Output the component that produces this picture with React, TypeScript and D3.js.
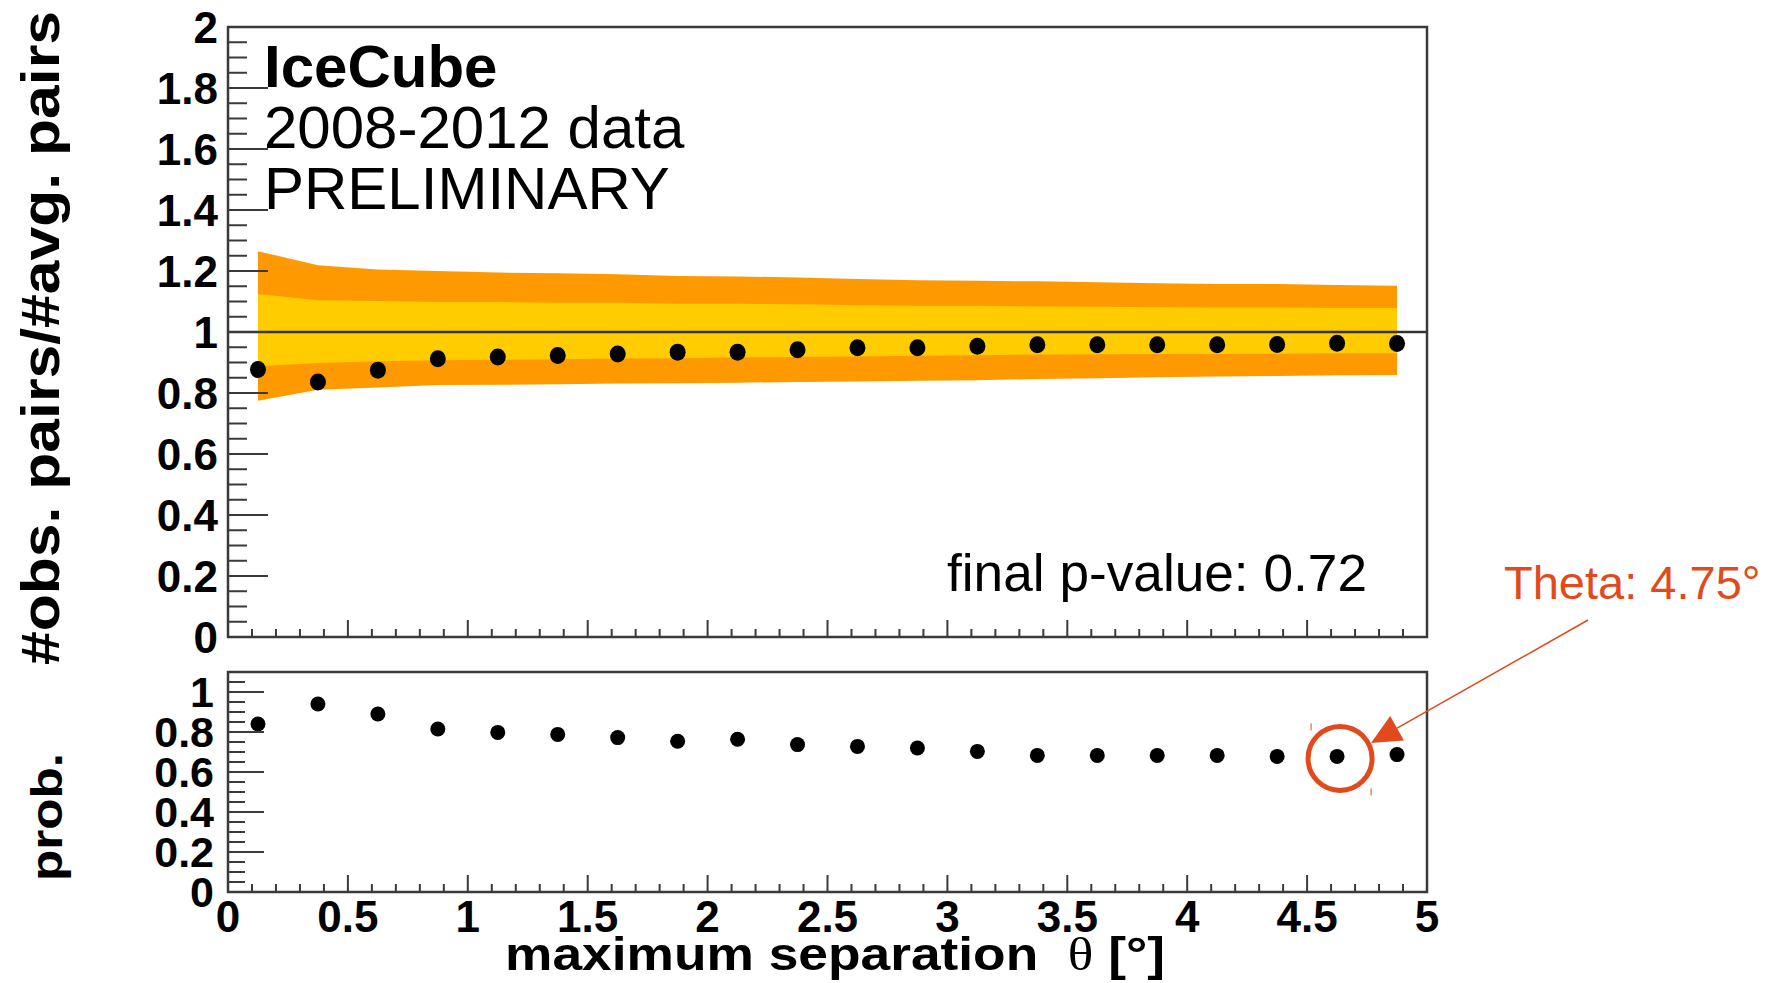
import * as d3 from 'd3';
import React from 'react';

// bin centres of the max separation scan (deg)
const thetaBins = [0.125, 0.375, 0.625, 0.875, 1.125, 1.375, 1.625, 1.875, 2.125, 2.375,
    2.625, 2.875, 3.125, 3.375, 3.625, 3.875, 4.125, 4.375, 4.625, 4.875];

// #obs pairs / #avg pairs
const ratioObs = [0.877, 0.836, 0.875, 0.912, 0.918, 0.923, 0.928, 0.934, 0.934, 0.942,
    0.948, 0.948, 0.953, 0.958, 0.958, 0.958, 0.958, 0.959, 0.963, 0.962];

// expectation bands
const outerHi = [1.265, 1.219, 1.205, 1.200, 1.195, 1.193, 1.189, 1.184, 1.182, 1.179,
    1.174, 1.170, 1.168, 1.166, 1.163, 1.160, 1.157, 1.157, 1.154, 1.152];
const innerHi = [1.125, 1.104, 1.102, 1.098, 1.098, 1.096, 1.096, 1.093, 1.093, 1.091,
    1.088, 1.086, 1.086, 1.084, 1.083, 1.081, 1.080, 1.080, 1.079, 1.079];
const innerLo = [0.888, 0.898, 0.904, 0.907, 0.909, 0.911, 0.913, 0.914, 0.917, 0.918,
    0.920, 0.922, 0.924, 0.926, 0.927, 0.928, 0.928, 0.929, 0.930, 0.930];
const outerLo = [0.775, 0.811, 0.818, 0.826, 0.827, 0.829, 0.831, 0.832, 0.834, 0.836,
    0.838, 0.840, 0.842, 0.846, 0.848, 0.852, 0.854, 0.856, 0.858, 0.859];

// p-value per bin
const probValues = [0.84, 0.94, 0.89, 0.815, 0.798, 0.788, 0.772, 0.754, 0.764, 0.737,
    0.728, 0.72, 0.703, 0.683, 0.683, 0.683, 0.683, 0.678, 0.678, 0.687];

const topYTicks = [0, 0.2, 0.4, 0.6, 0.8, 1, 1.2, 1.4, 1.6, 1.8, 2];
const botYTicks = [0, 0.2, 0.4, 0.6, 0.8, 1];
const xTicks = [0, 0.5, 1, 1.5, 2, 2.5, 3, 3.5, 4, 4.5, 5];

const headerLines = ['IceCube', '2008-2012 data', 'PRELIMINARY'];
const pValueText = 'final p-value: 0.72';
const markedTheta = 4.625;
const markedLabel = 'Theta: 4.75°';

const FONT = '"Liberation Sans", Arial, Helvetica, sans-serif';
const AXIS = '#3a3a3a';
const RED = '#E04A1C';

const App = () => {
    const x = d3.scaleLinear().domain([0, 5]).range([228, 1427]);
    const yTop = d3.scaleLinear().domain([0, 2]).range([637, 27]);
    const yBot = d3.scaleLinear().domain([0, 1.1]).range([892, 672]);

    const idx = d3.range(thetaBins.length);
    const band = (lo: number[], hi: number[]) => d3.area<number>()
        .x(i => x(thetaBins[i]))
        .y0(i => yTop(lo[i]))
        .y1(i => yTop(hi[i]))(idx) as string;

    const minorY = (max: number) => d3.range(0, Math.round(max / 0.05) + 1).map(k => k * 0.05)
        .filter(v => Math.abs(v / 0.2 - Math.round(v / 0.2)) > 1e-6);
    const minorX = d3.range(0, 51).map(k => k / 10).filter(v => Math.abs(v * 2 - Math.round(v * 2)) > 1e-6);

    const xAxisTicks = (yBase: number) => (
        <g stroke={AXIS} strokeWidth={2}>
            {xTicks.map(v => <line key={'M' + v} x1={x(v)} x2={x(v)} y1={yBase} y2={yBase - 17} />)}
            {minorX.map(v => <line key={'m' + v} x1={x(v)} x2={x(v)} y1={yBase} y2={yBase - 8} />)}
        </g>
    );

    // marked point + arrow geometry
    const mx = x(markedTheta) + 3;
    const my = yBot(probValues[thetaBins.indexOf(markedTheta)]) + 2;
    const tip = [1371, 743], tail = [1588, 620];
    const dx = tail[0] - tip[0], dy = tail[1] - tip[1], len = Math.hypot(dx, dy);
    const ux = dx / len, uy = dy / len;
    const hb = [tip[0] + ux * 30, tip[1] + uy * 30];
    const head = `M${tip[0]},${tip[1]} L${hb[0] - uy * 14},${hb[1] + ux * 14} L${hb[0] + uy * 14},${hb[1] - ux * 14} Z`;

    return (
        <svg width={1783} height={983} style={{ position: 'absolute', left: 0, top: 0, background: '#fff' }}
            fontFamily={FONT}>
            <rect width={1783} height={983} fill="#fff" />

            {/* ---- top panel ---- */}
            <path d={band(outerLo, outerHi)} fill="#FF9900" />
            <path d={band(innerLo, innerHi)} fill="#FFCC00" />
            <line x1={x(0)} x2={x(5)} y1={yTop(1)} y2={yTop(1)} stroke="#333" strokeWidth={2.5} />
            {idx.map(i => <ellipse key={i} cx={x(thetaBins[i])} cy={yTop(ratioObs[i])} rx={8} ry={8.5} fill="#000" />)}

            <rect x={x(0)} y={yTop(2)} width={x(5) - x(0)} height={yTop(0) - yTop(2)} fill="none" stroke={AXIS} strokeWidth={2.5} />
            <g stroke={AXIS} strokeWidth={2}>
                {topYTicks.map(v => <line key={'M' + v} x1={x(0)} x2={x(0) + 40} y1={yTop(v)} y2={yTop(v)} />)}
                {minorY(2).map(v => <line key={'m' + v} x1={x(0)} x2={x(0) + 19} y1={yTop(v)} y2={yTop(v)} />)}
            </g>
            {xAxisTicks(yTop(0))}
            <g fontWeight="bold" fontSize={44} textAnchor="end">
                {topYTicks.map(v => <text key={v} x={218} y={yTop(v)} dy="0.36em">{String(v)}</text>)}
            </g>

            <g fontSize={60}>
                {headerLines.map((t, i) => (
                    <text key={t} x={264} y={87 + i * 61} fontWeight={i === 0 ? 'bold' : 'normal'}>{t}</text>
                ))}
            </g>
            <text x={1367} y={591} fontSize={51} textAnchor="end" textLength={420} lengthAdjust="spacingAndGlyphs">{pValueText}</text>

            {/* ---- bottom panel ---- */}
            {idx.map(i => <circle key={i} cx={x(thetaBins[i])} cy={yBot(probValues[i])} r={7.5} fill="#000" />)}
            <rect x={x(0)} y={yBot(1.1)} width={x(5) - x(0)} height={yBot(0) - yBot(1.1)} fill="none" stroke={AXIS} strokeWidth={2.5} />
            <g stroke={AXIS} strokeWidth={2}>
                {botYTicks.map(v => <line key={'M' + v} x1={x(0)} x2={x(0) + 36} y1={yBot(v)} y2={yBot(v)} />)}
                {minorY(1.1).map(v => <line key={'m' + v} x1={x(0)} x2={x(0) + 17} y1={yBot(v)} y2={yBot(v)} />)}
            </g>
            {xAxisTicks(yBot(0))}
            <g fontWeight="bold" fontSize={44} textAnchor="middle">
                {botYTicks.map(v => <text key={v} x={214} y={yBot(v)} dy="0.36em" textAnchor="end" fontSize={43}>{String(v)}</text>)}
                {xTicks.map(v => <text key={'x' + v} x={x(v)} y={932}>{String(v)}</text>)}
            </g>

            {/* axis titles */}
            <text x={835} y={970} fontWeight="bold" fontSize={47} textAnchor="middle" textLength={660} lengthAdjust="spacingAndGlyphs">
                maximum separation{'\u00a0\u00a0'}<tspan fontFamily='"Liberation Serif", serif' fontWeight="normal">θ</tspan> [°]
            </text>
            <text transform="translate(59,338) rotate(-90)" fontWeight="bold" fontSize={54} textAnchor="middle"
                textLength={654} lengthAdjust="spacingAndGlyphs">#obs. pairs/#avg. pairs</text>
            <text transform="translate(62,817) rotate(-90)" fontWeight="bold" fontSize={44} textAnchor="middle"
                textLength={128} lengthAdjust="spacingAndGlyphs">prob.</text>

            {/* annotation */}
            <text x={1504} y={599} fontSize={47} fill={RED}>{markedLabel}</text>
            <line x1={tail[0]} y1={tail[1]} x2={hb[0]} y2={hb[1]} stroke={RED} strokeWidth={1.5} />
            <path d={head} fill={RED} />
            <circle cx={mx} cy={my} r={32} fill="none" stroke={RED} strokeWidth={5} />
            <line x1={mx - 29} x2={mx - 29} y1={my - 35} y2={my - 28} stroke={RED} strokeWidth={1} />
            <line x1={mx + 31} x2={mx + 31} y1={my + 30} y2={my + 37} stroke={RED} strokeWidth={1} />
        </svg>
    );
};

export default App;
